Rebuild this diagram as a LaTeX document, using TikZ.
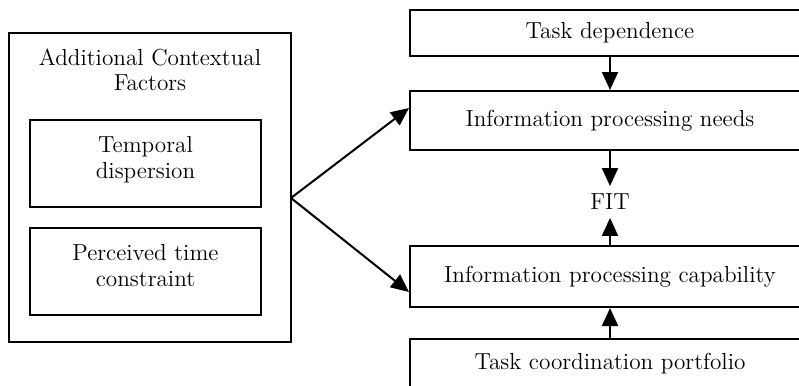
\documentclass[tikz,border=0pt]{standalone}
\usetikzlibrary{arrows.meta,calc}

\begin{document}
\begin{tikzpicture}[x=0.5pt,y=-0.5pt,line width=1pt,
  every node/.style={font=\fontsize{11.6}{12.8}\selectfont},
  box/.style={draw,rectangle,align=center,inner sep=2pt},
  arr/.style={-{Triangle[length=9pt,width=8pt]}}]
\clip (0,0) rectangle (799,386);
% left block: contextual factors
\node[box,minimum width=141pt,minimum height=154.5pt] (ctx) at (150,187.5) {};
\node[align=center] (ctxlbl) at (150,70) {Additional Contextual\\Factors};
\node[box,minimum width=115.5pt,minimum height=43.5pt,text depth=6pt] (tdisp) at (145.5,163.5) {Temporal\\dispersion};
\node[box,minimum width=115.5pt,minimum height=43.5pt,text depth=6pt] (tperc) at (145.5,271.5) {Perceived time\\constraint};
% right column
\node[box,minimum width=200pt,minimum height=23pt] (tdep) at (610,33) {Task dependence};
\node[box,minimum width=200pt,minimum height=29.5pt] (needs) at (610,120.5) {Information processing needs};
\node[inner sep=3.5pt] (fit) at (610,202) {FIT};
\node[box,minimum width=200pt,minimum height=30.5pt] (cap) at (610,276.5) {Information processing capability};
\node[box,minimum width=200pt,minimum height=25pt] (port) at (610,364) {Task coordination portfolio};
\coordinate (fork) at (291,198);
\draw[arr] (tdep) -- (needs);
\draw[arr] (needs) -- (fit);
\draw[arr] (cap) -- (fit);
\draw[arr] (port) -- (cap);
\draw[arr] (fork) -- ($(needs.west)+(0,-12.5)$);
\draw[arr] (fork) -- ($(cap.west)+(0,15.5)$);
\end{tikzpicture}
\end{document}
